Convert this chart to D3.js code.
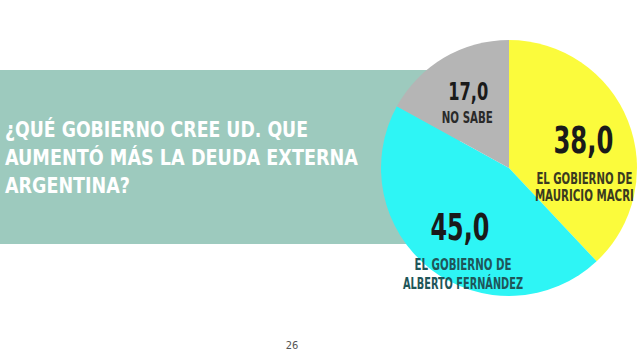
<!DOCTYPE html>
<html>
<head>
<meta charset="utf-8">
<script src="https://cdn.jsdelivr.net/npm/d3@7"></script>
<style>
  html, body { margin: 0; padding: 0; background: #ffffff; }
  svg { display: block; }
  text { font-family: "Liberation Sans Narrow", "DejaVu Sans Condensed", "Roboto", sans-serif; font-weight: bold; }
</style>
</head>
<body>
<div id="chart"></div>
<script>
// ---- data ----
const categories = ["EL GOBIERNO DE MAURICIO MACRI", "EL GOBIERNO DE ALBERTO FERNÁNDEZ", "NO SABE"];
const labelLines = [["EL GOBIERNO DE", "MAURICIO MACRI"], ["EL GOBIERNO DE", "ALBERTO FERNÁNDEZ"], ["NO SABE"]];
const values = [38.0, 45.0, 17.0];
const titleLines = ["¿QUÉ GOBIERNO CREE UD. QUE", "AUMENTÓ MÁS LA DEUDA EXTERNA", "ARGENTINA?"];
const pageNumber = "26";

// ---- styling / layout ----
const W = 640, H = 362;
const sliceColors = ["#fbfb3c", "#2ef5f5", "#b5b5b5"];
const labelColors = ["#3a3a20", "#1f5659", "#2a2a2a"];
const numberSizes = [38, 37, 24];
const numberWidths = [60, 59, 40];
const labelSizes = [16.5, 16.5, 15];
const labelWidths = [[96, 99], [97, 120], [51]];
const labelOffsets = [[31, 48], [30, 49], [23]];
const labelDx = [1, 3, -1];
const numberDy = [14, 9, 1];
const titleWidths = [303, 353, 125];
const cx = 509, cy = 168, R = 128;

const svg = d3.select("#chart").append("svg").attr("width", W).attr("height", H);

// teal band
svg.append("rect").attr("x", 0).attr("y", 70).attr("width", 460).attr("height", 174).attr("fill", "#9dcabe");

// title
svg.selectAll("text.title").data(titleLines).join("text").attr("class", "title")
  .attr("x", 5).attr("y", (d, i) => 137 + i * 28)
  .attr("fill", "#ffffff").attr("font-size", 21.5)
  .attr("textLength", (d, i) => titleWidths[i]).attr("lengthAdjust", "spacingAndGlyphs")
  .text(d => d);

// pie
const pie = d3.pie().sort(null).value(d => d)(values);
const arc = d3.arc().innerRadius(0).outerRadius(R);
const labelArc = d3.arc().innerRadius(80).outerRadius(80);
const g = svg.append("g").attr("transform", `translate(${cx},${cy})`);
g.selectAll("path").data(pie).join("path").attr("d", arc).attr("fill", (d, i) => sliceColors[i]);

const lbl = g.selectAll("g.lbl").data(pie).join("g").attr("class", "lbl")
  .attr("transform", d => { const c = labelArc.centroid(d); return `translate(${c[0]},${c[1]})`; });
lbl.append("text").attr("text-anchor", "middle").attr("y", (d, i) => numberDy[i])
  .attr("font-size", (d, i) => numberSizes[i]).attr("fill", "#1a1a1a")
  .attr("textLength", (d, i) => numberWidths[i]).attr("lengthAdjust", "spacingAndGlyphs")
  .text(d => d3.format(".1f")(d.data).replace(".", ","));
lbl.each(function (d, i) {
  const sel = d3.select(this);
  labelLines[i].forEach((line, j) => {
    sel.append("text").attr("text-anchor", "middle")
      .attr("x", labelDx[i])
      .attr("y", numberDy[i] + labelOffsets[i][j])
      .attr("font-size", labelSizes[i]).attr("fill", labelColors[i])
      .attr("textLength", labelWidths[i][j]).attr("lengthAdjust", "spacingAndGlyphs")
      .text(line);
  });
});

// page number
svg.append("text").attr("x", 292).attr("y", 349).attr("text-anchor", "middle")
  .attr("font-size", 11).attr("fill", "#555").style("font-weight", "normal").text(pageNumber);
</script>
</body>
</html>
